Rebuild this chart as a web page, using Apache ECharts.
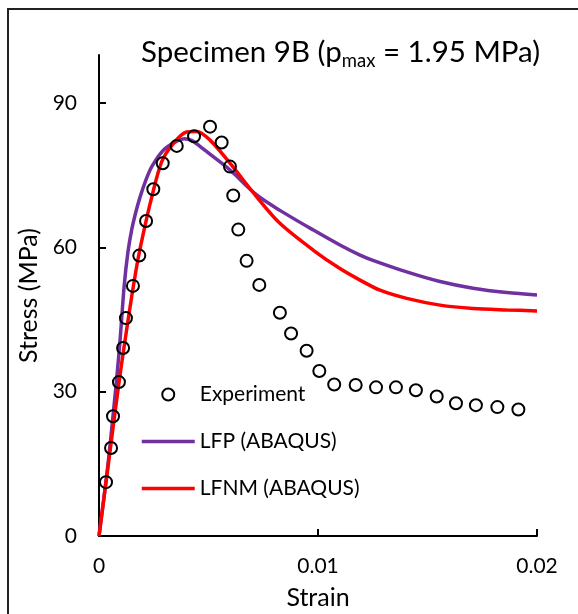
<!DOCTYPE html>
<html>
<head>
<meta charset="UTF-8">
<title>Specimen 9B</title>
<script src="https://cdn.jsdelivr.net/npm/echarts@6/dist/echarts.min.js"></script>
<style>
  html, body { margin: 0; padding: 0; background: #fff; }
  #chart { width: 578px; height: 614px; }
</style>
</head>
<body>
<div id="chart"></div>
<script>
// experiment points
var expStrain = [0.00032, 0.00055, 0.00064, 0.00091, 0.0011, 0.00123, 0.00155, 0.00184, 0.00215, 0.00248,
  0.00291, 0.00355, 0.00434, 0.00507, 0.0056, 0.00598, 0.00613, 0.00636, 0.00674, 0.00732,
  0.00826, 0.00877, 0.00948, 0.01006, 0.01074, 0.01172, 0.01265, 0.01356, 0.01447, 0.01542,
  0.0163, 0.01721, 0.01819, 0.01915];
var expStress = [11.2, 18.3, 24.9, 32.0, 39.1, 45.3, 52.0, 58.3, 65.5, 72.1,
  77.5, 81.1, 83.1, 85.1, 81.8, 76.8, 70.8, 63.7, 57.2, 52.2,
  46.4, 42.1, 38.5, 34.3, 31.5, 31.4, 30.9, 30.9, 30.3, 29.0,
  27.6, 27.2, 26.8, 26.3];

// LFP (ABAQUS)
var lfpStrain = [0, 0.0004, 0.00075, 0.00095, 0.00115, 0.00132, 0.00149, 0.00168, 0.00187, 0.00214,
  0.00241, 0.00294, 0.00355, 0.0039, 0.00425, 0.00461, 0.00492, 0.00598, 0.0072, 0.00826,
  0.00979, 0.011, 0.01192, 0.01251, 0.01405, 0.01557, 0.01708, 0.01862, 0.02];
var lfpStress = [0, 14.5, 30.0, 40.0, 52.0, 59.0, 63.6, 67.3, 70.4, 74.0,
  76.8, 80.2, 82.1, 82.6, 82.2, 81.0, 79.9, 76.1, 70.9, 67.7,
  63.6, 60.5, 58.4, 57.3, 54.9, 52.9, 51.5, 50.6, 50.1];

// LFNM (ABAQUS)
var lfnmStrain = [0, 0.0004, 0.0009, 0.0012, 0.0015, 0.0018, 0.0021, 0.0024, 0.00286, 0.00339,
  0.004, 0.00446, 0.00507, 0.00598, 0.0072, 0.00826, 0.00979, 0.011, 0.01192, 0.01283,
  0.01405, 0.01557, 0.01708, 0.01862, 0.02];
var lfnmStress = [0, 14.0, 31.5, 41.0, 50.0, 58.0, 64.5, 70.3, 77.8, 81.6,
  84.0, 84.1, 82.3, 77.5, 70.5, 65.0, 59.4, 55.6, 53.2, 51.1,
  49.4, 48.0, 47.3, 47.0, 46.8];

var yTicks = [0, 30, 60, 90];
var xTicks = [0, 0.01, 0.02];

function pairs(xs, ys) {
  var out = [];
  for (var i = 0; i < xs.length; i++) out.push([xs[i], ys[i]]);
  return out;
}

var font = 'Lato, "Open Sans", sans-serif';
var chart = echarts.init(document.getElementById('chart'));

var option = {
  backgroundColor: '#fff',
  animation: false,
  textStyle: { fontFamily: font, color: '#000' },
  title: {
    left: 141,
    top: 32,
    padding: 0,
    text: '{m|Specimen 9B (p}{s|max}{m| = 1.95 MPa)}',
    textStyle: {
      fontWeight: 'normal',
      rich: {
        m: { fontFamily: font, fontSize: 29.5, fontWeight: 'normal', color: '#000', lineHeight: 40 },
        s: { fontFamily: font, fontSize: 18.5, fontWeight: 'normal', color: '#000', lineHeight: 19, verticalAlign: 'top', padding: [20, 0, 0, 0] }
      }
    }
  },
  legend: {
    orient: 'vertical',
    left: 140,
    top: 384,
    padding: 0,
    itemWidth: 53,
    itemHeight: 12,
    itemGap: 26,
    textStyle: { fontFamily: font, fontSize: 21, color: '#000' },
    data: [
      { name: 'Experiment' },
      { name: 'LFP (ABAQUS)', itemStyle: { opacity: 0 }, lineStyle: { width: 3.5 } },
      { name: 'LFNM (ABAQUS)', itemStyle: { opacity: 0 }, lineStyle: { width: 3.5 } }
    ]
  },
  grid: { left: 99, right: 41, top: 55, bottom: 78, outerBoundsMode: 'none' },
  xAxis: {
    type: 'value',
    min: 0,
    max: 0.02,
    interval: 0.01,
    name: 'Strain',
    nameLocation: 'middle',
    nameGap: 49,
    nameTextStyle: { fontFamily: font, fontSize: 25, color: '#000' },
    axisLine: { lineStyle: { color: '#000', width: 2 } },
    axisTick: { inside: true, length: 7, lineStyle: { color: '#000', width: 2 } },
    axisLabel: { fontFamily: font, fontSize: 21, color: '#000', margin: 20, customValues: xTicks },
    splitLine: { show: false }
  },
  yAxis: {
    type: 'value',
    min: 0,
    max: 100,
    interval: 30,
    name: 'Stress (MPa)',
    nameLocation: 'middle',
    nameGap: 50,
    nameTextStyle: { fontFamily: font, fontSize: 25, color: '#000' },
    axisLine: { show: true, lineStyle: { color: '#000', width: 2 } },
    axisTick: { show: true, inside: true, length: 7, lineStyle: { color: '#000', width: 2 }, customValues: yTicks },
    axisLabel: { fontFamily: font, fontSize: 21, color: '#000', margin: 22, customValues: yTicks },
    splitLine: { show: false }
  },
  graphic: [{
    type: 'rect',
    silent: true,
    shape: { x: 8, y: 9, width: 700, height: 700 },
    style: { fill: 'none', stroke: '#222', lineWidth: 2 }
  }],
  series: [
    {
      name: 'LFP (ABAQUS)',
      type: 'line',
      symbol: 'none',
      smooth: 0.3,
      z: 2,
      data: pairs(lfpStrain, lfpStress),
      lineStyle: { color: '#7030A0', width: 3.5 },
      itemStyle: { color: '#7030A0' }
    },
    {
      name: 'LFNM (ABAQUS)',
      type: 'line',
      symbol: 'none',
      smooth: 0.3,
      z: 3,
      data: pairs(lfnmStrain, lfnmStress),
      lineStyle: { color: '#FF0000', width: 3.5 },
      itemStyle: { color: '#FF0000' }
    },
    {
      name: 'Experiment',
      type: 'scatter',
      symbol: 'circle',
      symbolSize: 12,
      z: 4,
      data: pairs(expStrain, expStress),
      itemStyle: { color: 'rgba(255,255,255,0)', borderColor: '#000', borderWidth: 2, opacity: 1 }
    }
  ]
};

chart.setOption(option);
</script>
</body>
</html>
